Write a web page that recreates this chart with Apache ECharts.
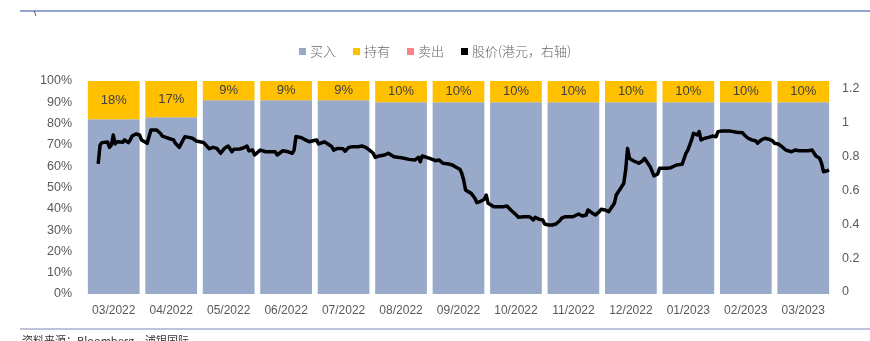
<!DOCTYPE html>
<html>
<head>
<meta charset="utf-8">
<script src="https://cdn.jsdelivr.net/npm/echarts@6/dist/echarts.min.js"></script>
<style>
html,body{margin:0;padding:0;background:#fff;}
#c{width:870px;height:341px;}
</style>
</head>
<body>
<div id="c"></div>
<script>
var months = ['03/2022','04/2022','05/2022','06/2022','07/2022','08/2022','09/2022','10/2022','11/2022','12/2022','01/2023','02/2023','03/2023'];
var buyPct  = [82, 83, 91, 91, 91, 90, 90, 90, 90, 90, 90, 90, 90];
var holdPct = [18, 17, 9, 9, 9, 10, 10, 10, 10, 10, 10, 10, 10];
var sellPct = [0, 0, 0, 0, 0, 0, 0, 0, 0, 0, 0, 0, 0];
var leftTicks = [0,10,20,30,40,50,60,70,80,90,100];
var rightTicks = [0,0.2,0.4,0.6,0.8,1,1.2];

var priceDates = [
'2022-03-08','2022-03-09','2022-03-10','2022-03-11','2022-03-13','2022-03-14','2022-03-15','2022-03-16','2022-03-17','2022-03-18',
'2022-03-19','2022-03-21','2022-03-22','2022-03-24','2022-03-25','2022-03-26','2022-03-28','2022-03-30','2022-03-31','2022-04-03',
'2022-04-04','2022-04-05','2022-04-06','2022-04-08','2022-04-10','2022-04-11','2022-04-13','2022-04-15','2022-04-17','2022-04-18',
'2022-04-20','2022-04-21','2022-04-23','2022-04-25','2022-04-27','2022-04-29','2022-05-01','2022-05-03','2022-05-04','2022-05-06',
'2022-05-08','2022-05-10','2022-05-12','2022-05-14','2022-05-16','2022-05-18','2022-05-19','2022-05-22','2022-05-24','2022-05-26',
'2022-05-27','2022-05-29','2022-05-30','2022-05-31','2022-06-02','2022-06-03','2022-06-05','2022-06-08','2022-06-10','2022-06-11',
'2022-06-12','2022-06-14','2022-06-15','2022-06-17','2022-06-19','2022-06-20','2022-06-21','2022-06-22','2022-06-24','2022-06-26',
'2022-06-28','2022-06-30','2022-07-02','2022-07-03','2022-07-04','2022-07-06','2022-07-08','2022-07-10','2022-07-11','2022-07-13',
'2022-07-16','2022-07-17','2022-07-19','2022-07-21','2022-07-24','2022-07-26','2022-07-28','2022-07-30','2022-08-01','2022-08-02',
'2022-08-04','2022-08-07','2022-08-09','2022-08-10','2022-08-12','2022-08-14','2022-08-16','2022-08-17','2022-08-20','2022-08-23',
'2022-08-24','2022-08-25','2022-08-26','2022-08-27','2022-08-28','2022-08-31','2022-09-01','2022-09-03','2022-09-05','2022-09-07',
'2022-09-08','2022-09-10','2022-09-12','2022-09-14','2022-09-16','2022-09-17','2022-09-18','2022-09-19','2022-09-20','2022-09-22',
'2022-09-23','2022-09-24','2022-09-25','2022-09-27','2022-09-29','2022-09-30','2022-10-01','2022-10-04','2022-10-07','2022-10-09',
'2022-10-11','2022-10-13','2022-10-16','2022-10-17','2022-10-20','2022-10-23','2022-10-24','2022-10-25','2022-10-26','2022-10-28',
'2022-10-30','2022-10-31','2022-11-02','2022-11-04','2022-11-06','2022-11-08','2022-11-09','2022-11-11','2022-11-13','2022-11-15',
'2022-11-16','2022-11-18','2022-11-20','2022-11-21','2022-11-22','2022-11-23','2022-11-25','2022-11-27','2022-11-29','2022-11-30',
'2022-12-02','2022-12-04','2022-12-05','2022-12-07','2022-12-08','2022-12-10','2022-12-12','2022-12-13','2022-12-14','2022-12-15',
'2022-12-16','2022-12-17','2022-12-20','2022-12-22','2022-12-23','2022-12-24','2022-12-26','2022-12-28','2022-12-29','2022-12-30',
'2022-12-31','2023-01-01','2023-01-04','2023-01-06','2023-01-07','2023-01-09','2023-01-12','2023-01-13','2023-01-14','2023-01-15',
'2023-01-17','2023-01-18','2023-01-20','2023-01-21','2023-01-22','2023-01-24','2023-01-26','2023-01-28','2023-01-30','2023-01-31',
'2023-02-02','2023-02-06','2023-02-08','2023-02-10','2023-02-13','2023-02-14','2023-02-16','2023-02-18','2023-02-19','2023-02-20',
'2023-02-21','2023-02-23','2023-02-25','2023-02-27','2023-03-01','2023-03-02','2023-03-04','2023-03-06','2023-03-08','2023-03-09',
'2023-03-11','2023-03-13','2023-03-15','2023-03-17','2023-03-20','2023-03-22','2023-03-23','2023-03-24','2023-03-26','2023-03-27',
'2023-03-28','2023-03-29','2023-03-30','2023-03-31'
];
var prices = [
0.757,0.869,0.883,0.888,0.887,0.855,0.869,0.928,0.875,0.888,
0.899,0.885,0.899,0.883,0.899,0.922,0.934,0.928,0.899,0.879,
0.869,0.958,0.968,0.958,0.938,0.922,0.914,0.906,0.899,0.879,
0.855,0.863,0.918,0.914,0.909,0.893,0.888,0.883,0.875,0.847,
0.855,0.849,0.820,0.849,0.863,0.829,0.844,0.845,0.851,0.863,
0.834,0.839,0.810,0.820,0.839,0.844,0.829,0.829,0.829,0.810,
0.820,0.835,0.832,0.829,0.820,0.839,0.919,0.922,0.912,0.899,
0.888,0.894,0.899,0.875,0.869,0.888,0.875,0.859,0.839,0.849,
0.847,0.832,0.855,0.859,0.859,0.863,0.855,0.839,0.820,0.796,
0.804,0.810,0.820,0.810,0.800,0.796,0.794,0.788,0.784,0.780,
0.774,0.796,0.770,0.804,0.796,0.790,0.790,0.776,0.780,0.761,
0.757,0.757,0.751,0.737,0.725,0.702,0.662,0.603,0.593,0.583,
0.593,0.554,0.528,0.536,0.548,0.573,0.524,0.504,0.504,0.504,
0.508,0.485,0.455,0.442,0.445,0.445,0.436,0.426,0.442,0.430,
0.426,0.402,0.396,0.396,0.402,0.421,0.436,0.445,0.445,0.445,
0.455,0.461,0.449,0.442,0.455,0.485,0.469,0.455,0.475,0.489,
0.485,0.475,0.469,0.524,0.573,0.607,0.643,0.721,0.849,0.790,
0.800,0.776,0.761,0.776,0.790,0.784,0.741,0.686,0.682,0.698,
0.731,0.725,0.731,0.735,0.745,0.751,0.755,0.761,0.820,0.839,
0.899,0.938,0.928,0.948,0.899,0.909,0.914,0.922,0.918,0.948,
0.952,0.952,0.948,0.944,0.942,0.928,0.909,0.899,0.909,0.894,
0.879,0.899,0.909,0.903,0.894,0.879,0.875,0.859,0.839,0.835,
0.829,0.839,0.835,0.835,0.835,0.839,0.829,0.804,0.790,0.761,
0.711,0.705,0.717,0.721
];

var priceData = priceDates.map(function(d, i){ return [d, prices[i]]; });
var txt = '#595959';
var numFont = '"Liberation Sans", Arial, sans-serif';
var cjkFont = '"Noto Sans CJK SC", "Liberation Sans", sans-serif';

var chart = echarts.init(document.getElementById('c'));
chart.setOption({
  animation: false,
  backgroundColor: '#ffffff',
  legend: {
    top: 40, left: 294,
    itemWidth: 7, itemHeight: 7, itemGap: 17,
    icon: 'rect',
    textStyle: { color: '#666666', fontSize: 13, fontFamily: cjkFont, fontWeight: 300, padding: [0,0,0,-1] },
    data: ['买入','持有','卖出','股价(港元，右轴)']
  },
  grid: [
    { left: 85, right: 38, top: 81, height: 213 },
    { left: 85, right: 39, top: 89, height: 203 }
  ],
  xAxis: [
    { type: 'category', gridIndex: 0, data: months,
      axisLine: { show: false }, axisTick: { show: false },
      axisLabel: { color: txt, fontSize: 12, fontFamily: numFont, margin: 11 } },
    { type: 'time', gridIndex: 1, min: '2022-03-01', max: '2023-04-01', show: false }
  ],
  yAxis: [
    { type: 'value', gridIndex: 0, min: leftTicks[0], max: leftTicks[leftTicks.length-1], interval: 10,
      splitLine: { show: false }, axisLine: { show: false }, axisTick: { show: false },
      axisLabel: { color: txt, fontSize: 12.5, fontFamily: numFont, margin: 13, formatter: '{value}%' } },
    { type: 'value', gridIndex: 1, position: 'right', min: rightTicks[0], max: rightTicks[rightTicks.length-1], interval: 0.2,
      splitLine: { show: false }, axisLine: { show: false }, axisTick: { show: false },
      axisLabel: { color: txt, fontSize: 12.5, fontFamily: numFont, margin: 11,
        formatter: function(v){ return String(Math.round(v*10)/10); } } }
  ],
  series: [
    { name: '买入', type: 'bar', stack: 's', xAxisIndex: 0, yAxisIndex: 0, data: buyPct,
      barCategoryGap: '10%', itemStyle: { color: '#98A9CA' } },
    { name: '持有', type: 'bar', stack: 's', xAxisIndex: 0, yAxisIndex: 0, data: holdPct,
      itemStyle: { color: '#FFC000' },
      label: { show: true, position: 'inside', formatter: '{c}%', color: '#404040', fontSize: 13, fontFamily: numFont } },
    { name: '卖出', type: 'bar', stack: 's', xAxisIndex: 0, yAxisIndex: 0, data: sellPct,
      itemStyle: { color: '#FF8080' } },
    { name: '股价(港元，右轴)', type: 'line', xAxisIndex: 1, yAxisIndex: 1, data: priceData,
      showSymbol: false, symbol: 'none', itemStyle: { color: '#000000' },
      lineStyle: { color: '#000000', width: 3.5, join: 'round' } }
  ],
  graphic: [
    { type: 'line', shape: { x1: 20, y1: 11, x2: 870, y2: 11 }, style: { stroke: '#6F86C4', lineWidth: 1.5 } },
    { type: 'text', left: 34, top: 10, style: { text: '\\', fill: '#000', fontSize: 8, fontFamily: numFont } },
    { type: 'line', shape: { x1: 20, y1: 329, x2: 870, y2: 329 }, style: { stroke: '#7F86B8', lineWidth: 1.2 } },
    { type: 'text', left: 22, top: 335, style: { text: '资料来源：Bloomberg，浦银国际', fill: '#333', fontSize: 11, fontFamily: cjkFont } }
  ]
});
</script>
</body>
</html>
